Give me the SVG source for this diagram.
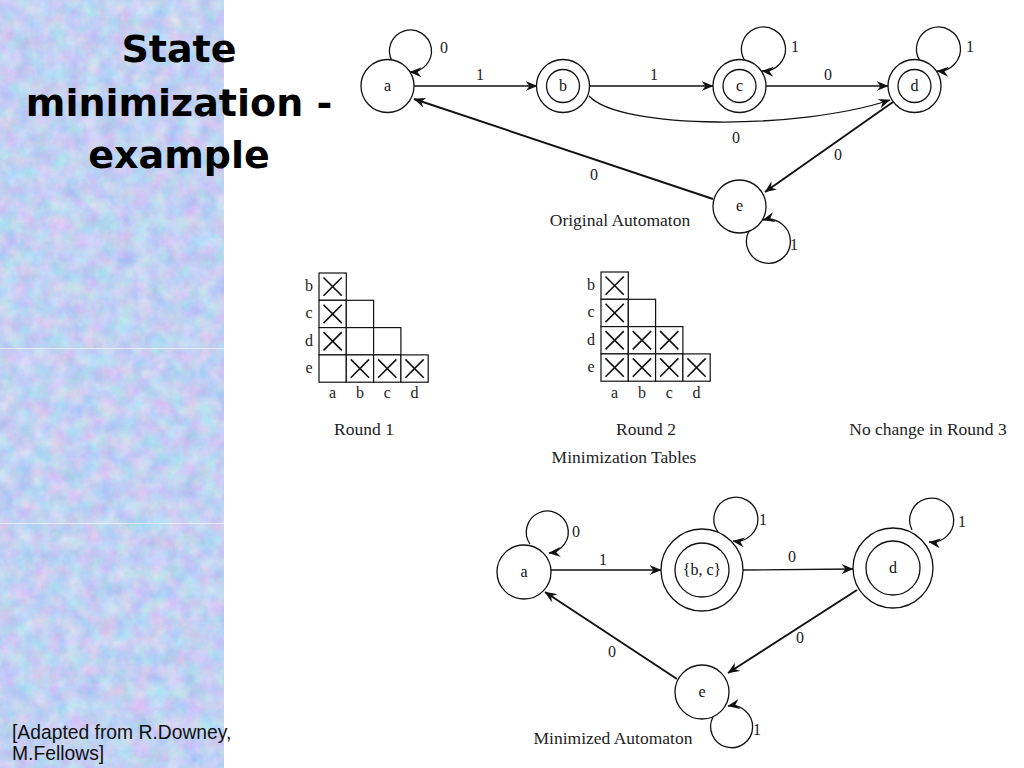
<svg xmlns="http://www.w3.org/2000/svg" width="1024" height="768" viewBox="0 0 1024 768">
<style>
.node{fill:#fff;stroke:#111;stroke-width:1.3}
.edge{fill:none;stroke:#111;stroke-width:1.3}
.thick{stroke-width:1.9}
.lbl{font-family:"Liberation Serif","Times New Roman",serif;font-size:16px;fill:#222;text-anchor:middle}
.nl{font-family:"Liberation Serif","Times New Roman",serif;font-size:16px;fill:#111;text-anchor:middle}
.cap{font-family:"Liberation Serif","Times New Roman",serif;font-size:17.5px;fill:#222;text-anchor:middle}
.cell{fill:#fff;stroke:#111;stroke-width:1.2}
.x{stroke:#111;stroke-width:1.6}
.title{font-family:"DejaVu Sans",sans-serif;font-weight:bold;font-size:38px;fill:#000;text-anchor:middle}
.cite{font-family:"Liberation Sans",Arial,sans-serif;font-size:19.3px;fill:#111}
</style>
<defs>
<marker id="arr" viewBox="0 0 12 10" refX="11.5" refY="5" markerWidth="12" markerHeight="10" markerUnits="userSpaceOnUse" orient="auto">
<path d="M0,0 L12,5 L0,10 L4,5 z" fill="#111"/>
</marker>
<filter id="tex" x="0" y="0" width="100%" height="100%" color-interpolation-filters="sRGB">
<feTurbulence type="fractalNoise" baseFrequency="0.06" numOctaves="4" seed="7"/>
<feColorMatrix type="matrix" values="0.32 0 0 0 0.6  0 0.22 0 0 0.71  0 0 0.1 0 0.9  0 0 0 0 1"/>
</filter>
</defs>
<rect width="1024" height="768" fill="#fff"/>
<g id="panel">
<rect x="0" y="0" width="224" height="768" fill="#bcd0f0"/>
<rect x="0" y="0" width="224" height="768" filter="url(#tex)"/>
<line x1="0" y1="348.5" x2="224" y2="348.5" stroke="#e4ecfa" stroke-width="1"/>
<line x1="0" y1="523.5" x2="224" y2="523.5" stroke="#e4ecfa" stroke-width="1"/>
</g>
<g id="title">
<text class="title" x="179" y="62">State</text>
<text class="title" x="179" y="116">minimization -</text>
<text class="title" x="179" y="168">example</text>
</g>
<g id="citation">
<text class="cite" x="12" y="739">[Adapted from R.Downey,</text>
<text class="cite" x="12" y="760">M.Fellows]</text>
</g>

<!-- Original automaton -->
<g id="orig-connectors">
<path class="edge" d="M414,86 L537,86" marker-end="url(#arr)"/>
<path class="edge" d="M589,86 L713,86" marker-end="url(#arr)"/>
<path class="edge" d="M766,86 L888,86" marker-end="url(#arr)"/>
<path class="edge" stroke="#333" d="M589,96 C620,130 800,130 890,100" marker-end="url(#arr)"/>
<path class="edge thick" d="M893,102 L765,192" marker-end="url(#arr)"/>
<path class="edge thick" d="M713,199 L414,99" marker-end="url(#arr)"/>
<path class="edge" d="M392,61 A21,21 0 1 1 410,72" marker-end="url(#arr)"/>
<path class="edge" d="M745,61 A22,22 0 1 1 762,71" marker-end="url(#arr)"/>
<path class="edge" d="M920,61 A22,22 0 1 1 937,71" marker-end="url(#arr)"/>
<path class="edge" d="M749,231 A22,22 0 1 0 763,220" marker-end="url(#arr)"/>
<text class="lbl" x="444" y="53">0</text>
<text class="lbl" x="480" y="80">1</text>
<text class="lbl" x="654" y="80">1</text>
<text class="lbl" x="795" y="52">1</text>
<text class="lbl" x="828" y="80">0</text>
<text class="lbl" x="970" y="52">1</text>
<text class="lbl" x="736" y="143">0</text>
<text class="lbl" x="838" y="160">0</text>
<text class="lbl" x="594" y="180">0</text>
<text class="lbl" x="794" y="250">1</text>
</g>
<g id="orig-a"><circle class="node" cx="387.5" cy="86" r="26.5"/><text class="nl" x="387.5" y="91">a</text></g>
<g id="orig-b"><circle class="node" cx="563" cy="86" r="26.5"/><circle class="node" cx="563" cy="86" r="16.5"/><text class="nl" x="563" y="91">b</text></g>
<g id="orig-c"><circle class="node" cx="739.5" cy="86" r="26.5"/><circle class="node" cx="739.5" cy="86" r="16.5"/><text class="nl" x="739.5" y="91">c</text></g>
<g id="orig-d"><circle class="node" cx="914.5" cy="86" r="26.5"/><circle class="node" cx="914.5" cy="86" r="16.5"/><text class="nl" x="914.5" y="91">d</text></g>
<g id="orig-e"><circle class="node" cx="739.5" cy="206.5" r="26.5"/><text class="nl" x="739.5" y="211">e</text></g>
<text class="cap" x="620" y="226">Original Automaton</text>

<!-- Tables -->
<g id="table1">
<rect class="cell" x="319" y="273" width="27.3" height="27.3"/>
<rect class="cell" x="319" y="300.3" width="27.3" height="27.3"/>
<rect class="cell" x="346.3" y="300.3" width="27.3" height="27.3"/>
<rect class="cell" x="319" y="327.6" width="27.3" height="27.3"/>
<rect class="cell" x="346.3" y="327.6" width="27.3" height="27.3"/>
<rect class="cell" x="373.6" y="327.6" width="27.3" height="27.3"/>
<rect class="cell" x="319" y="354.9" width="27.3" height="27.3"/>
<rect class="cell" x="346.3" y="354.9" width="27.3" height="27.3"/>
<rect class="cell" x="373.6" y="354.9" width="27.3" height="27.3"/>
<rect class="cell" x="400.9" y="354.9" width="27.3" height="27.3"/>
<path class="x" d="M323.5,277.5 l18.3,18.3 M341.8,277.5 l-18.3,18.3"/>
<path class="x" d="M323.5,304.8 l18.3,18.3 M341.8,304.8 l-18.3,18.3"/>
<path class="x" d="M323.5,332.1 l18.3,18.3 M341.8,332.1 l-18.3,18.3"/>
<path class="x" d="M350.8,359.4 l18.3,18.3 M369.1,359.4 l-18.3,18.3"/>
<path class="x" d="M378.1,359.4 l18.3,18.3 M396.4,359.4 l-18.3,18.3"/>
<path class="x" d="M405.4,359.4 l18.3,18.3 M423.7,359.4 l-18.3,18.3"/>
<text class="lbl" x="309" y="291">b</text>
<text class="lbl" x="309" y="318">c</text>
<text class="lbl" x="309" y="346">d</text>
<text class="lbl" x="309" y="373">e</text>
<text class="lbl" x="332.6" y="398">a</text>
<text class="lbl" x="360" y="398">b</text>
<text class="lbl" x="387.2" y="398">c</text>
<text class="lbl" x="414.5" y="398">d</text>
<text class="cap" x="364" y="435">Round 1</text>
</g>
<g id="table2">
<rect class="cell" x="601" y="272" width="27.3" height="27.3"/>
<rect class="cell" x="601" y="299.3" width="27.3" height="27.3"/>
<rect class="cell" x="628.3" y="299.3" width="27.3" height="27.3"/>
<rect class="cell" x="601" y="326.6" width="27.3" height="27.3"/>
<rect class="cell" x="628.3" y="326.6" width="27.3" height="27.3"/>
<rect class="cell" x="655.6" y="326.6" width="27.3" height="27.3"/>
<rect class="cell" x="601" y="353.9" width="27.3" height="27.3"/>
<rect class="cell" x="628.3" y="353.9" width="27.3" height="27.3"/>
<rect class="cell" x="655.6" y="353.9" width="27.3" height="27.3"/>
<rect class="cell" x="682.9" y="353.9" width="27.3" height="27.3"/>
<path class="x" d="M605.5,276.5 l18.3,18.3 M623.8,276.5 l-18.3,18.3"/>
<path class="x" d="M605.5,303.8 l18.3,18.3 M623.8,303.8 l-18.3,18.3"/>
<path class="x" d="M605.5,331.1 l18.3,18.3 M623.8,331.1 l-18.3,18.3"/>
<path class="x" d="M632.8,331.1 l18.3,18.3 M651.1,331.1 l-18.3,18.3"/>
<path class="x" d="M660.1,331.1 l18.3,18.3 M678.4,331.1 l-18.3,18.3"/>
<path class="x" d="M605.5,358.4 l18.3,18.3 M623.8,358.4 l-18.3,18.3"/>
<path class="x" d="M632.8,358.4 l18.3,18.3 M651.1,358.4 l-18.3,18.3"/>
<path class="x" d="M660.1,358.4 l18.3,18.3 M678.4,358.4 l-18.3,18.3"/>
<path class="x" d="M687.4,358.4 l18.3,18.3 M705.7,358.4 l-18.3,18.3"/>
<text class="lbl" x="591" y="290">b</text>
<text class="lbl" x="591" y="317">c</text>
<text class="lbl" x="591" y="345">d</text>
<text class="lbl" x="591" y="372">e</text>
<text class="lbl" x="614.6" y="398">a</text>
<text class="lbl" x="642" y="398">b</text>
<text class="lbl" x="669.2" y="398">c</text>
<text class="lbl" x="696.5" y="398">d</text>
<text class="cap" x="646" y="435">Round 2</text>
</g>
<text class="cap" x="624" y="463">Minimization Tables</text>
<text class="cap" x="928" y="435">No change in Round 3</text>

<!-- Minimized automaton -->
<g id="min-connectors">
<path class="edge" d="M551,570 L661,570" marker-end="url(#arr)"/>
<path class="edge" d="M743,570 L853,569" marker-end="url(#arr)"/>
<path class="edge thick" d="M857,590 L728,673" marker-end="url(#arr)"/>
<path class="edge thick" d="M677,679 L545,592" marker-end="url(#arr)"/>
<path class="edge" d="M530,544 A21,21 0 1 1 549,553" marker-end="url(#arr)"/>
<path class="edge" d="M718,532 A22,22 0 1 1 733,541" marker-end="url(#arr)"/>
<path class="edge" d="M912,530 A22,22 0 1 1 929,542" marker-end="url(#arr)"/>
<path class="edge" d="M713,717 A21,21 0 1 0 728,706" marker-end="url(#arr)"/>
<text class="lbl" x="576" y="537">0</text>
<text class="lbl" x="603" y="565">1</text>
<text class="lbl" x="763" y="525">1</text>
<text class="lbl" x="792" y="562">0</text>
<text class="lbl" x="962" y="527">1</text>
<text class="lbl" x="612" y="657">0</text>
<text class="lbl" x="800" y="643">0</text>
<text class="lbl" x="757" y="735">1</text>
</g>
<g id="min-a"><circle class="node" cx="524" cy="572" r="27"/><text class="nl" x="524" y="577">a</text></g>
<g id="min-bc"><circle class="node" cx="702" cy="570" r="41"/><circle class="node" cx="702" cy="570" r="27"/><text class="nl" x="702" y="575">{b, c}</text></g>
<g id="min-d"><circle class="node" cx="893" cy="568" r="40"/><circle class="node" cx="893" cy="568" r="27"/><text class="nl" x="893" y="573">d</text></g>
<g id="min-e"><circle class="node" cx="702" cy="692" r="27"/><text class="nl" x="702" y="697">e</text></g>
<text class="cap" x="613" y="744">Minimized Automaton</text>
</svg>
